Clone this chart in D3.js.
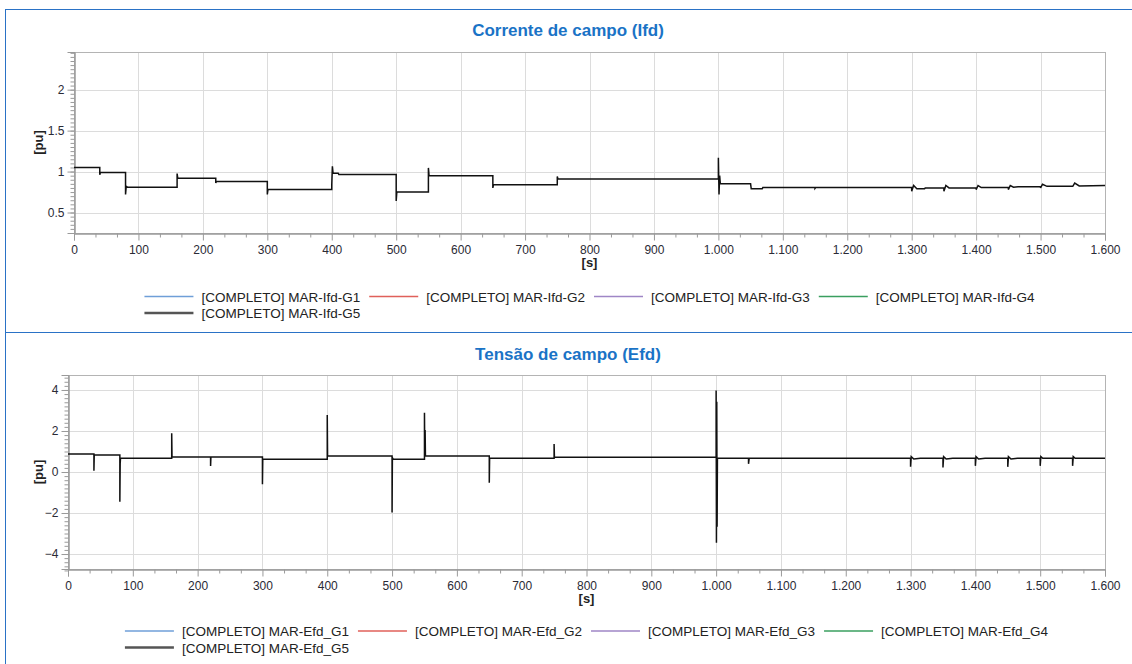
<!DOCTYPE html>
<html>
<head>
<meta charset="utf-8">
<script src="https://d3js.org/d3.v7.min.js"></script>
<style>
body { margin: 0; background: #fff; }
svg { display: block; font-family: "Liberation Sans", Arial, sans-serif; }
</style>
</head>
<body>
<svg id="chart" width="1132" height="664"></svg>
<script>
//Chart data
var xTicks = [0, 100, 200, 300, 400, 500, 600, 700, 800, 900, 1000, 1100, 1200, 1300, 1400, 1500, 1600];
var ifdTicks = [0.5, 1, 1.5, 2];
var efdTicks = [-4, -2, 0, 2, 4];

var ifdLabels = ["[COMPLETO] MAR-Ifd-G1", "[COMPLETO] MAR-Ifd-G2", "[COMPLETO] MAR-Ifd-G3", "[COMPLETO] MAR-Ifd-G4", "[COMPLETO] MAR-Ifd-G5"];
var efdLabels = ["[COMPLETO] MAR-Efd_G1", "[COMPLETO] MAR-Efd_G2", "[COMPLETO] MAR-Efd_G3", "[COMPLETO] MAR-Efd_G4", "[COMPLETO] MAR-Efd_G5"];
var seriesColors = ["#6f9fd8", "#e0605a", "#9f86c6", "#3a9f5f", "#555555"];

//field current G5: time [s] and value [pu]
var ifdTime = [0, 40, 40, 41, 80, 80, 81, 83, 160, 160, 161, 220, 220, 221, 300, 300, 301, 400, 400, 401, 402, 410, 411,
    500, 500, 501, 550, 550, 551, 650, 650, 651, 750, 750, 751, 1000, 1000, 1001, 1002, 1003, 1050, 1051, 1068, 1069,
    1150, 1150, 1151, 1300, 1300, 1303, 1308, 1320, 1321, 1350, 1350, 1353, 1358, 1400, 1400, 1403, 1408,
    1450, 1450, 1453, 1458, 1465, 1500, 1500, 1503, 1510, 1550, 1553, 1560, 1600];
var ifdG5 = [1.05, 1.05, 0.96, 0.99, 0.99, 0.72, 0.82, 0.81, 0.81, 0.975, 0.92, 0.92, 0.86, 0.88, 0.88, 0.72, 0.78, 0.78, 0.84, 1.065, 0.98, 0.98, 0.965,
    0.965, 0.64, 0.75, 0.75, 1.045, 0.95, 0.95, 0.80, 0.84, 0.84, 0.94, 0.91, 0.91, 1.17, 0.72, 0.95, 0.85, 0.85, 0.79, 0.79, 0.805,
    0.805, 0.795, 0.805, 0.805, 0.76, 0.83, 0.79, 0.79, 0.80, 0.80, 0.76, 0.83, 0.80, 0.80, 0.78, 0.83, 0.805,
    0.805, 0.78, 0.83, 0.81, 0.815, 0.815, 0.80, 0.845, 0.82, 0.82, 0.86, 0.825, 0.83];

//field voltage G5: time [s] and value [pu]
var efdTime = [0, 40, 40, 40.5, 80, 80, 80.5, 81, 160, 160, 160.5, 220, 220, 220.5, 300, 300, 300.5, 400, 400, 400.5,
    500, 500, 500.5, 502, 550, 550, 550.5, 551, 551, 551.5, 650, 650, 650.5, 750, 750, 750.5,
    1000, 1000, 1000.5, 1001, 1001.5, 1002, 1050, 1050, 1051,
    1300, 1300, 1301, 1305, 1315, 1350, 1350, 1351, 1355, 1365, 1400, 1400, 1401, 1405, 1415,
    1450, 1450, 1451, 1455, 1465, 1500, 1500, 1501, 1504, 1550, 1550, 1551, 1554, 1600];
var efdG5 = [0.88, 0.88, 0.06, 0.83, 0.83, -1.45, 0.4, 0.67, 0.67, 1.89, 0.73, 0.73, 0.29, 0.73, 0.73, -0.6, 0.62, 0.62, 2.78, 0.78,
    0.78, -1.98, 0.7, 0.62, 0.62, 2.89, 0.78, 0.78, 2.05, 0.78, 0.78, -0.52, 0.67, 0.67, 1.37, 0.72,
    0.72, 3.97, -3.45, 3.43, -2.67, 0.67, 0.67, 0.4, 0.67,
    0.67, 0.26, 0.75, 0.63, 0.67, 0.67, 0.22, 0.75, 0.63, 0.67, 0.67, 0.3, 0.75, 0.63, 0.67,
    0.67, 0.25, 0.75, 0.63, 0.67, 0.67, 0.3, 0.75, 0.67, 0.67, 0.3, 0.75, 0.67, 0.67];
//end of data

var svg = d3.select("#chart");

//x tick labels use a dot as thousands separator (1.000)
function fmtX(d) {
    return d3.format(",")(d).replace(",", ".");
}

function drawPanel(p) {
    var g = svg.append("g");

    //blue panel frame
    g.append("rect")
        .attr("x", 5.5).attr("y", p.boxTop + 0.5)
        .attr("width", 1140).attr("height", p.boxHeight)
        .attr("fill", "none").attr("stroke", "#2a72c6");

    g.append("text")
        .attr("x", 568).attr("y", p.titleY)
        .attr("text-anchor", "middle")
        .attr("font-size", 17).attr("font-weight", "bold")
        .attr("fill", "#1a73c6")
        .text(p.title);

    var x = d3.scaleLinear().domain([0, 1600]).range([p.left, p.right]);
    var y = d3.scaleLinear().domain(p.yDomain).range([p.bottom, p.top]);

    //grid lines
    g.selectAll(".vgrid").data(xTicks).enter().append("line")
        .attr("x1", function (d) { return Math.round(x(d)) + 0.5; })
        .attr("x2", function (d) { return Math.round(x(d)) + 0.5; })
        .attr("y1", p.top).attr("y2", p.bottom)
        .attr("stroke", "#dcdcdc");
    g.selectAll(".hgrid").data(p.yTicks).enter().append("line")
        .attr("x1", p.left).attr("x2", p.right)
        .attr("y1", function (d) { return Math.round(y(d)) + 0.5; })
        .attr("y2", function (d) { return Math.round(y(d)) + 0.5; })
        .attr("stroke", "#dcdcdc");

    //plot frame (top and right)
    g.append("rect")
        .attr("x", p.left + 0.5).attr("y", p.top + 0.5)
        .attr("width", p.right - p.left).attr("height", p.bottom - p.top)
        .attr("fill", "none").attr("stroke", "#b4b4b4");

    //minor ticks
    var xMinor = d3.range(0, 1600, 100 / 3).filter(function (d, i) { return i % 3 != 0; });
    var yMinor = d3.range(p.yDomain[0], p.yDomain[1], p.minorStep).map(function (d) {
        return Math.round(d / p.minorStep) * p.minorStep;
    });
    g.append("g").attr("class", "axis")
        .attr("transform", "translate(0," + (p.bottom + 0.5) + ")")
        .call(d3.axisBottom(x).tickValues(xMinor).tickSize(4).tickFormat(""));
    g.append("g").attr("class", "axis")
        .attr("transform", "translate(" + (p.left + 0.5) + ",0)")
        .call(d3.axisLeft(y).tickValues(yMinor).tickSize(4).tickFormat(""));

    //main axes
    g.append("g").attr("class", "axis")
        .attr("transform", "translate(0," + (p.bottom + 0.5) + ")")
        .call(d3.axisBottom(x).tickValues(xTicks).tickSize(7).tickPadding(5).tickFormat(fmtX));
    g.append("g").attr("class", "axis")
        .attr("transform", "translate(" + (p.left + 0.5) + ",0)")
        .call(d3.axisLeft(y).tickValues(p.yTicks).tickSize(7).tickPadding(3).tickFormat(d3.format("~g")));

    g.selectAll(".axis path, .axis line").attr("stroke", "#9a9a9a");
    g.selectAll(".axis text").attr("fill", "#2a2a35").attr("font-size", 12)
        .attr("font-family", "'Liberation Sans', Arial, sans-serif");

    //axis titles
    g.append("text")
        .attr("x", (p.left + p.right) / 2).attr("y", p.bottom + 34)
        .attr("text-anchor", "middle")
        .attr("font-size", 13).attr("font-weight", "bold").attr("fill", "#222")
        .text("[s]");
    g.append("text")
        .attr("transform", "translate(43," + (p.top + p.bottom) / 2 + ") rotate(-90)")
        .attr("text-anchor", "middle")
        .attr("font-size", 13).attr("font-weight", "bold").attr("fill", "#222")
        .text("[pu]");

    //the G5 curve (other machines lie underneath)
    var line = d3.line()
        .x(function (d) { return x(d[0]); })
        .y(function (d) { return y(d[1]); });
    g.append("path")
        .datum(d3.zip(p.time, p.values))
        .attr("d", line)
        .attr("fill", "none")
        .attr("stroke", "#111")
        .attr("stroke-width", 1.5);

    //legend, flowed in rows and centered under the plot
    var items = [], rowX = 0, row = 0, maxW = 0;
    var leg = g.append("g");
    p.labels.forEach(function (lab, i) {
        var it = leg.append("g");
        it.append("line").attr("x1", 0).attr("x2", 49).attr("y1", 0).attr("y2", 0)
            .attr("stroke", seriesColors[i]).attr("stroke-width", i == 4 ? 2.5 : 1.5);
        var t = it.append("text").attr("x", 57).attr("y", 5)
            .attr("font-size", 13.5).attr("fill", "#222").text(lab);
        var w = 57 + t.node().getComputedTextLength() + 9;
        if (rowX + w > 1000) { row++; rowX = 0; }
        items.push({ node: it, x: rowX, row: row });
        rowX += w;
        maxW = Math.max(maxW, rowX - 9);
    });
    var startX = (p.left + p.right) / 2 - maxW / 2;
    items.forEach(function (d) {
        d.node.attr("transform", "translate(" + (startX + d.x) + "," + (p.legendY + d.row * 16.5) + ")");
    });
}

drawPanel({
    boxTop: 9, boxHeight: 323, title: "Corrente de campo (Ifd)", titleY: 36,
    left: 74, right: 1105, top: 52, bottom: 233,
    yDomain: [0.25, 2.46], yTicks: ifdTicks, minorStep: 0.05,
    time: ifdTime, values: ifdG5, labels: ifdLabels, legendY: 296.5
});

drawPanel({
    boxTop: 332, boxHeight: 340, title: "Tensão de campo (Efd)", titleY: 360,
    left: 68, right: 1105, top: 375, bottom: 569,
    yDomain: [-4.73, 4.73], yTicks: efdTicks, minorStep: 0.2,
    time: efdTime, values: efdG5, labels: efdLabels, legendY: 631
});
</script>
</body>
</html>
